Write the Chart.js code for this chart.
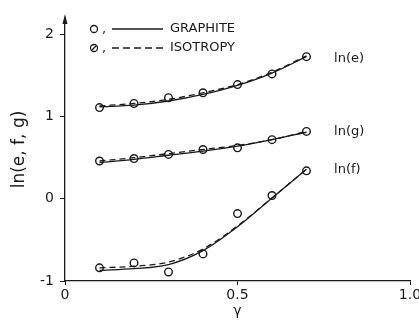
<!DOCTYPE html>
<html>
<head>
<meta charset="utf-8">
<script src="https://cdn.jsdelivr.net/npm/chart.js@4"></script>
<style>
  html, body { margin: 0; padding: 0; background: #fff; overflow: hidden; }
  #wrap { width: 440px; height: 322px; }
</style>
</head>
<body>
<div id="wrap"><canvas id="myChart"></canvas></div>
<script>
const gamma = [0.1, 0.2, 0.3, 0.4, 0.5, 0.6, 0.7];

// measured points
const lnE = [1.11, 1.16, 1.23, 1.29, 1.39, 1.52, 1.73];
const lnG = [0.46, 0.49, 0.54, 0.60, 0.62, 0.72, 0.82];
const lnF = [-0.84, -0.78, -0.89, -0.67, -0.18, 0.04, 0.34];

// graphite (solid) and isotropy (dashed) fits
const lnEGraphite = [1.12, 1.14, 1.19, 1.27, 1.38, 1.53, 1.73];
const lnEIsotropy = [1.13, 1.16, 1.21, 1.29, 1.39, 1.54, 1.74];
const lnGGraphite = [0.44, 0.48, 0.53, 0.58, 0.64, 0.72, 0.81];
const lnGIsotropy = [0.46, 0.50, 0.55, 0.60, 0.65, 0.72, 0.82];
const lnFGraphite = [-0.87, -0.85, -0.80, -0.63, -0.34, 0.01, 0.36];
const lnFIsotropy = [-0.84, -0.82, -0.77, -0.61, -0.33, 0.01, 0.36];

const xTicks = [0, 0.5, 1.0];
const yTicks = [-1, 0, 1, 2];
const seriesLabels = ['ln(e)', 'ln(g)', 'ln(f)'];
const seriesLabelY = [1.70, 0.82, 0.36];

const ink = '#1a1a1a';
const font = 'DejaVu Sans, Arial, sans-serif';
const pts = (ys) => gamma.map((x, i) => ({ x: x, y: ys[i] }));

const fitLine = (ys, dashed) => ({
  data: pts(ys),
  borderColor: ink,
  borderWidth: 1.3,
  borderDash: dashed ? [6, 4] : [],
  pointRadius: 0,
  cubicInterpolationMode: 'monotone',
  fill: false,
});
const marks = (ys) => ({
  data: pts(ys),
  showLine: false,
  pointRadius: 3.8,
  pointBorderWidth: 1.4,
  pointBorderColor: ink,
  pointBackgroundColor: '#fff',
});

// axis arrow, legend and curve labels
const decor = {
  id: 'decor',
  afterDraw(chart) {
    const { ctx, scales } = chart;
    const xs = scales.x, ys = scales.y;
    const x0 = xs.getPixelForValue(0);
    const top = chart.chartArea.top;
    ctx.save();
    ctx.strokeStyle = ink;
    ctx.fillStyle = ink;
    ctx.lineWidth = 1.2;
    // arrow on y axis
    ctx.beginPath();
    ctx.moveTo(x0, top - 4);
    ctx.lineTo(x0 - 2.5, top + 6);
    ctx.lineTo(x0 + 2.5, top + 6);
    ctx.closePath();
    ctx.fill();

    // legend
    ctx.font = '13px ' + font;
    ctx.textBaseline = 'middle';
    const rows = [
      { y: 29, dash: [], text: 'GRAPHITE', slash: false },
      { y: 48, dash: [7, 4], text: 'ISOTROPY', slash: true },
    ];
    rows.forEach((r) => {
      ctx.beginPath();
      ctx.lineWidth = 1.3;
      ctx.setLineDash([]);
      ctx.arc(94, r.y, 3.5, 0, Math.PI * 2);
      ctx.stroke();
      if (r.slash) {
        ctx.beginPath();
        ctx.moveTo(92, r.y + 2);
        ctx.lineTo(96, r.y - 2);
        ctx.stroke();
      }
      ctx.textAlign = 'left';
      ctx.fillText(',', 102, r.y + 1);
      ctx.beginPath();
      ctx.setLineDash(r.dash);
      ctx.moveTo(112, r.y);
      ctx.lineTo(163, r.y);
      ctx.stroke();
      ctx.setLineDash([]);
      ctx.fillText(r.text, 170, r.y);
    });

    // curve labels
    ctx.font = '13px ' + font;
    seriesLabels.forEach((t, i) => {
      ctx.fillText(t, xs.getPixelForValue(0.78), ys.getPixelForValue(seriesLabelY[i]));
    });
    ctx.restore();
  },
};

new Chart(document.getElementById('myChart'), {
  type: 'line',
  data: {
    datasets: [
      fitLine(lnEGraphite, false), fitLine(lnEIsotropy, true), marks(lnE),
      fitLine(lnGGraphite, false), fitLine(lnGIsotropy, true), marks(lnG),
      fitLine(lnFGraphite, false), fitLine(lnFIsotropy, true), marks(lnF),
    ],
  },
  options: {
    responsive: true,
    maintainAspectRatio: false,
    animation: false,
    layout: { padding: { top: 18, right: 30, left: 0, bottom: 0 } },
    plugins: { legend: { display: false }, tooltip: { enabled: false } },
    scales: {
      x: {
        type: 'linear',
        min: 0,
        max: 1.0,
        afterFit: (s) => { s.height = 41; },
        afterBuildTicks: (s) => { s.ticks = xTicks.map((v) => ({ value: v })); },
        grid: { drawOnChartArea: false, tickLength: 4, color: ink },
        border: { color: ink, width: 1.3 },
        ticks: {
          color: ink,
          font: { family: font, size: 14 },
          padding: 2,
          maxRotation: 0,
          callback: (v) => v.toFixed(1).replace(/^0\.0$/, '0'),
        },
        title: {
          display: true,
          text: 'γ',
          color: ink,
          font: { family: font, size: 14 },
          padding: { top: 0, bottom: 2 },
        },
      },
      y: {
        min: -1,
        max: 2.2,
        afterFit: (s) => { s.width = 65; },
        afterBuildTicks: (s) => { s.ticks = yTicks.map((v) => ({ value: v })); },
        grid: { drawOnChartArea: false, tickLength: 5, color: ink },
        border: { color: ink, width: 1.3 },
        ticks: {
          color: ink,
          font: { family: font, size: 14 },
          padding: 6,
        },
        title: {
          display: true,
          text: 'ln(e, f, g)',
          color: ink,
          font: { family: font, size: 17 },
          padding: { top: 9, bottom: 0 },
        },
      },
    },
  },
  plugins: [decor],
});
</script>
</body>
</html>
